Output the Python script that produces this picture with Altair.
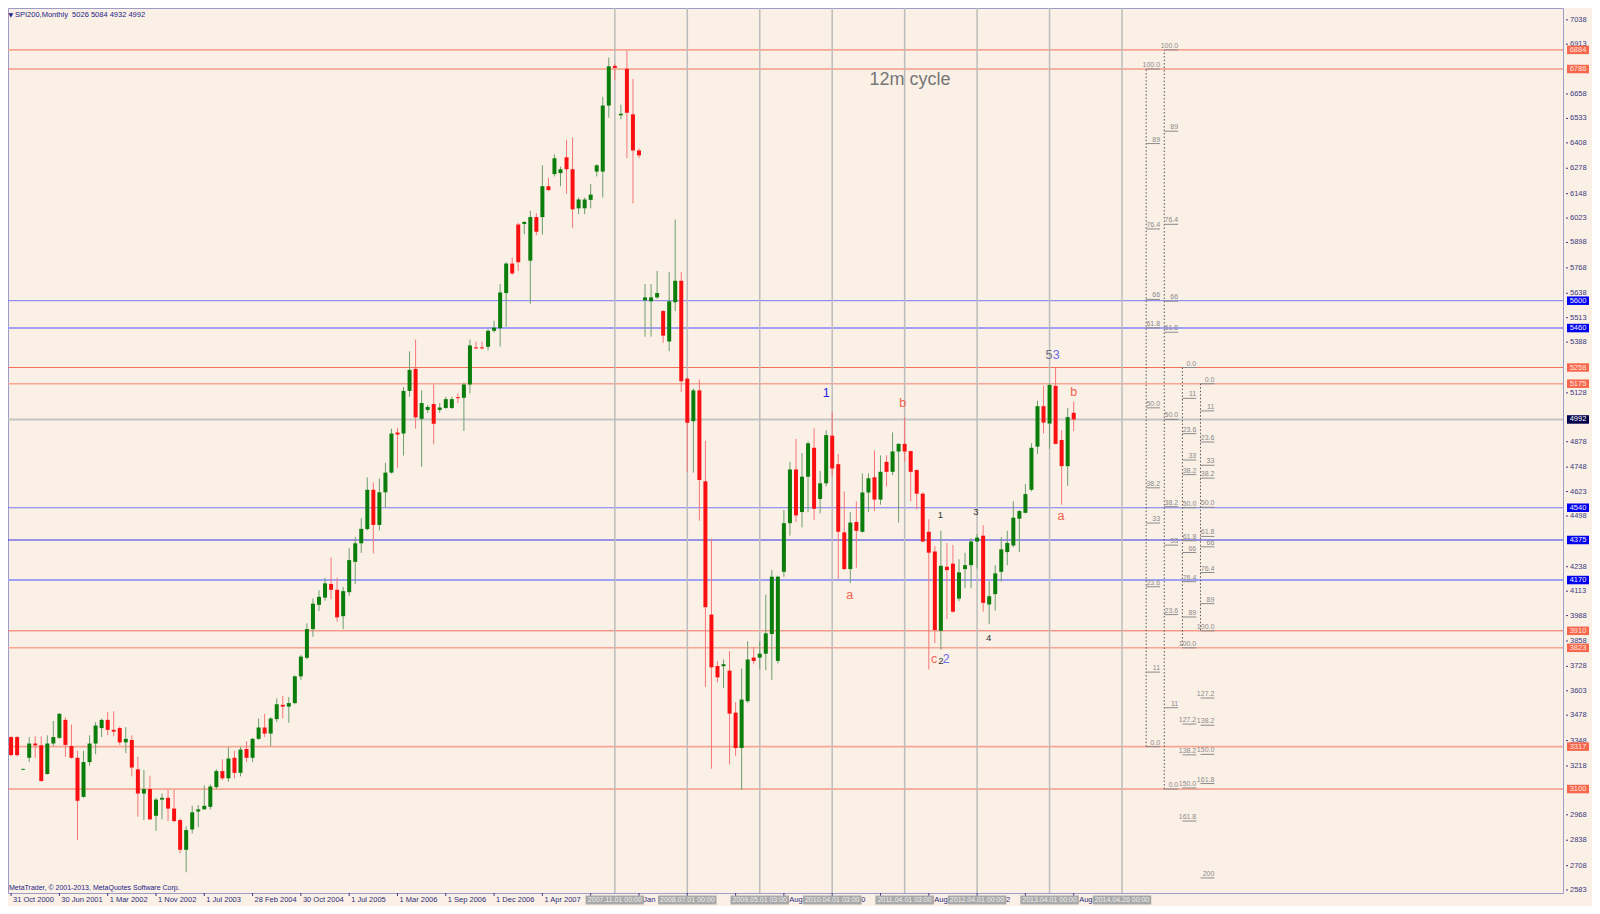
import altair as alt
import pandas as pd

# ---------------- data ----------------
opens = [3366,3366,3199,3260,3333,3324,3177,3333,3362,3454,
         3320,3260,3060,3238,3333,3412,3454,3403,3412,3339,
         3351,3201,3077,3100,2963,3046,3055,3000,2941,2789,
         2893,2985,2996,3009,3110,3192,3155,3260,3183,3305,
         3260,3357,3415,3384,3458,3531,3522,3540,3677,3772,
         3919,4043,4080,4150,4120,3985,4108,4263,4358,4431,
         4632,4452,4619,4720,4925,4920,5138,5251,4995,5041,
         5071,5041,5051,5051,5106,5103,5171,5361,5361,5364,
         5446,5459,5639,5790,5990,5993,5805,6028,6028,6186,
         6248,6253,6334,6273,6073,6073,6116,6261,6261,6599,
         6802,6549,6787,6554,6369,5602,5597,5617,5547,5391,
         5592,5702,5201,4983,5141,4675,3993,3730,3729,3706,
         3491,3310,3550,3773,3773,3793,3894,3756,4212,4461,
         4736,4518,4699,4847,4585,4665,4909,4763,4414,4226,
         4467,4417,4618,4696,4582,4775,4724,4828,4867,4830,
         4733,4612,4417,4316,3910,4238,4254,4075,4226,4246,
         4367,4397,4045,4098,4212,4313,4347,4484,4514,4632,
         4853,5060,4971,5164,4887,4753,5026]
highs = [3370,3372,3205,3366,3370,3370,3375,3448,3489,3467,
         3430,3296,3296,3375,3443,3461,3494,3498,3421,3417,
         3375,3265,3198,3168,3055,3077,3095,3095,2949,2908,
         3014,3018,3119,3124,3201,3252,3315,3296,3315,3344,
         3362,3461,3485,3467,3564,3577,3571,3681,3787,3948,
         4076,4117,4181,4285,4181,4135,4333,4391,4487,4695,
         4670,4690,4770,4945,4950,5158,5341,5401,5141,5066,
         5171,5076,5108,5108,5126,5181,5401,5391,5391,5454,
         5497,5685,5797,5820,5998,6008,6060,6048,6293,6228,
         6349,6286,6424,6436,6128,6128,6198,6298,6644,6845,
         6812,6604,6880,6735,6379,5685,5685,5752,5552,5747,
         6015,5747,5208,5151,5196,4883,4382,3755,3763,3806,
         3545,3717,3857,3826,3857,4095,4221,4192,4528,4775,
         4892,4820,4880,4947,4729,4937,5031,4816,4624,4518,
         4573,4716,4716,4833,4808,4808,4926,4870,5004,4833,
         4736,4619,4481,4343,4422,4360,4350,4276,4310,4384,
         4405,4451,4165,4246,4389,4422,4573,4528,4662,4870,
         5088,5164,5177,5258,4937,5051,5084]
lows = [3268,3266,3197,3238,3260,3137,3174,3320,3357,3265,
        3256,2839,3055,3219,3278,3366,3375,3370,3326,3284,
        3165,2959,2941,2941,2886,2945,2936,2930,2771,2674,
        2872,2904,2996,2996,3100,3146,3137,3155,3165,3238,
        3238,3351,3366,3320,3443,3461,3439,3534,3659,3765,
        3879,4011,4065,4071,3956,3919,4089,4150,4309,4424,
        4306,4424,4539,4715,4745,4807,5108,4945,4750,5026,
        4865,5026,5046,5046,5076,4933,5126,5351,5351,5346,
        5436,5366,5467,5732,5752,5940,5584,5935,5938,6163,
        6236,6186,6148,5973,6043,6043,6073,6236,6128,6537,
        6729,6529,6329,6098,6329,5416,5416,5610,5384,5341,
        5547,5133,4725,4720,4474,3622,3204,3647,3617,3226,
        3269,3095,3541,3739,3712,3709,3659,3743,4187,4397,
        4467,4439,4518,4478,4511,4649,4699,4175,4221,4154,
        4233,4414,4518,4523,4556,4649,4707,4464,4775,4573,
        4531,4363,3712,3847,3813,3969,4003,4061,4128,4128,
        4229,4008,3944,4014,4162,4246,4338,4313,4511,4624,
        4816,4921,4842,4864,4556,4652,4932]
closes = [3274,3274,3203,3333,3324,3141,3333,3366,3485,3326,
          3260,3040,3238,3333,3425,3454,3403,3394,3339,3357,
          3210,3077,3100,2945,3046,3055,3000,2936,2789,2890,
          2981,2996,3014,3113,3192,3155,3256,3183,3302,3260,
          3357,3415,3384,3461,3534,3522,3540,3677,3778,3919,
          4049,4084,4153,4120,3979,4113,4272,4358,4432,4632,
          4452,4619,4720,4920,4915,5138,5246,5003,5076,5056,
          4970,5053,5096,5096,5101,5171,5371,5356,5356,5446,
          5462,5642,5790,5740,5797,6003,6028,5953,6186,6166,
          6329,6273,6273,6068,6118,6118,6143,6293,6599,6800,
          6792,6557,6562,6369,6344,5617,5617,5639,5421,5597,
          5702,5188,4975,5141,4682,4031,3723,3672,3739,3486,
          3310,3558,3763,3756,3793,3897,4187,4187,4461,4736,
          4501,4699,4870,4535,4665,4912,4741,4417,4226,4464,
          4422,4618,4691,4582,4724,4724,4828,4867,4828,4724,
          4612,4367,4310,3914,4243,4221,4008,4209,4246,4367,
          4387,4053,4087,4204,4327,4360,4489,4523,4610,4847,
          5060,4976,5169,4867,4753,5004,4992]

level_prices = [6884, 6786, 5600, 5460, 5258, 5175, 4992, 4540, 4375, 4170, 3910, 3823, 3317, 3100]
level_kinds = ["r2", "r", "b", "b2", "r", "r2", "g", "b", "bd", "b2", "r", "r2", "r2", "r"]

price_ticks = [7038, 6913, 6658, 6533, 6408, 6278, 6148, 6023, 5898, 5768, 5638, 5513,
               5388, 5128, 4878, 4748, 4623, 4498, 4238, 4113, 3988, 3858,
               3728, 3603, 3478, 3348, 3218, 2968, 2838, 2708, 2583]

date_tick_bars = list(range(0, 177, 8))
date_label_bars = [0, 8, 16, 24, 32, 40, 48, 56, 64, 72, 80, 88]
date_labels = ["31 Oct 2000", "30 Jun 2001", "1 Mar 2002", "1 Nov 2002", "1 Jul 2003",
               "28 Feb 2004", "30 Oct 2004", "1 Jul 2005", "1 Mar 2006", "1 Sep 2006",
               "1 Dec 2006", "1 Apr 2007"]
# fragments of date labels that peek out between the grey separator boxes
frag_bars = [104.7, 128.9, 140.8, 152.9, 164.8, 176.9]
frag_texts = ["Jan", "Aug", "0", "Aug", "2", "Aug"]

sep_bars = [100, 112, 124, 136, 148, 160, 172, 184]
sep_labels = ["2007.11.01 00:00", "2008.07.01 00:00", "2009.05.01 03:00", "2010.04.01 03:00",
              "2011.04.01 03:00", "2012.04.01 00:00", "2013.04.01 00:00", "2014.04.26 00:00"]

fib_ret = [0, 11, 23.6, 33, 38.2, 50, 61.8, 66, 76.4, 89, 100]
fib_ext = [127.2, 138.2, 150, 161.8]
fib_ext_d = [127.2, 138.2, 150, 161.8, 200]
# (name, bar of dotted line, price at 0 %, price at 100 %)
fib_sets = [("A", 188, 3317, 6786), ("B", 191, 3100, 6884), ("C", 194, 5258, 3823), ("D", 197, 5175, 3910)]

wave_text = ["1", "b", "a", "c", "2", "2", "1", "3", "4", "5", "3", "b", "a"]
wave_bar = [135.0, 147.7, 138.9, 152.9, 154.0, 154.9, 153.9, 159.8, 161.9, 171.9, 173.1, 176.0, 173.9]
wave_price = [5125, 5075, 4091, 3765, 3757, 3765, 4501, 4518, 3872, 5320, 5320, 5132, 4497]
wave_kind = ["blue", "red", "red", "red", "dark", "lblue", "dark", "dark", "dark", "grey", "lblue", "red", "red"]

# ---------------- layout ----------------
W, H = 1555, 885
FONT = "Liberation Sans"
AXC = "#3a3a80"
xs = alt.Scale(domain=[-0.509, 257.04], nice=False, zero=False)
ys = alt.Scale(domain=[2567.8, 7098.4], nice=False, zero=False)

n = len(opens)
cd = pd.DataFrame({"i": list(range(n)), "o": opens, "h": highs, "l": lows, "c": closes})
up = cd["c"] >= cd["o"]
cd["bc"] = ["#0a7d0a" if u else "#fa1010" for u in up]
cd["wc"] = ["#6e9e6e" if u else "#f77676" for u in up]

styles = {
    "r": ("#f2705a", 1.0, "#f7674e", "#ffe6de"),
    "r2": ("#f7a595", 1.6, "#f7674e", "#ffe6de"),
    "b": ("#7a7af0", 1.0, "#0000f0", "#eeeeff"),
    "b2": ("#a0a0f4", 2.0, "#0000f0", "#eeeeff"),
    "bd": ("#3535e6", 1.2, "#0000f0", "#eeeeff"),
    "g": ("#c4c4c4", 2.0, "#00004a", "#ffffff"),
}
lv = pd.DataFrame({"p": level_prices, "k": level_kinds})
lv["lc"] = [styles[k][0] for k in lv["k"]]
lv["lw"] = [styles[k][1] for k in lv["k"]]
lv["tb"] = [styles[k][2] for k in lv["k"]]
lv["tt"] = [styles[k][3] for k in lv["k"]]
lv["txt"] = [str(p) for p in lv["p"]]


def X(f):
    return alt.X(f, scale=xs, axis=None, title=None)


def Y(f):
    return alt.Y(f, scale=ys, axis=None, title=None)


layers = []

# horizontal levels
layers.append(alt.Chart(lv).mark_rule().encode(
    x=alt.value(0), x2=alt.value(W), y=Y("p:Q"),
    color=alt.Color("lc:N", scale=None),
    strokeWidth=alt.StrokeWidth("lw:Q", scale=None)))

# period separators
sp = pd.DataFrame({"s": sep_bars, "lab": sep_labels})
sp["a"] = sp["s"] - 4.85
sp["b"] = sp["s"] + 4.85
layers.append(alt.Chart(sp).mark_rule(color="#bcbcbc", strokeWidth=1.5).encode(
    x=X("s:Q"), y=alt.value(0), y2=alt.value(H)))

# fibonacci tools
fv_rows, fl_rows = [], []
for name, bar, p0, p100 in fib_sets:
    ratios = list(fib_ret)
    if name == "C":
        ratios += fib_ext
    if name == "D":
        ratios += fib_ext_d
    fv_rows.append({"x": bar, "top": p0, "bot": p100})
    for r in ratios:
        lab = ("%.1f" % r) if r in (0, 50, 100, 150) or (r != int(r)) else str(int(r))
        fl_rows.append({"x": bar, "xe": bar + 2.3, "p": p0 + (p100 - p0) * r / 100.0, "lab": lab})
fv = pd.DataFrame(fv_rows)
fl = pd.DataFrame(fl_rows)
layers.append(alt.Chart(fv).mark_rule(color="#555555", strokeWidth=1, strokeDash=[1.5, 2]).encode(
    x=X("x:Q"), y=Y("top:Q"), y2="bot:Q"))
layers.append(alt.Chart(fl).mark_rule(color="#8c8c8c", strokeWidth=1).encode(
    x=X("x:Q"), x2="xe:Q", y=Y("p:Q")))
layers.append(alt.Chart(fl).mark_text(align="right", baseline="bottom", dy=-1, fontSize=7,
                                      font=FONT, color="#8a8a8a").encode(
    x=X("xe:Q"), y=Y("p:Q"), text="lab:N"))

# candles
layers.append(alt.Chart(cd).mark_rule(strokeWidth=1).encode(
    x=X("i:Q"), y=Y("l:Q"), y2="h:Q", color=alt.Color("wc:N", scale=None)))
layers.append(alt.Chart(cd).mark_rule(strokeWidth=4).encode(
    x=X("i:Q"), y=Y("o:Q"), y2="c:Q", color=alt.Color("bc:N", scale=None)))

# wave labels
wcol = {"blue": "#2424e8", "red": "#f2624f", "dark": "#333333", "lblue": "#6c6cec", "grey": "#707088"}
wsize = {"blue": 12.5, "red": 12.5, "dark": 9.5, "lblue": 12.5, "grey": 12.5}
wv = pd.DataFrame({"t": wave_text, "x": wave_bar, "p": wave_price, "k": wave_kind})
wv["col"] = [wcol[k] for k in wv["k"]]
wv["fs"] = [wsize[k] for k in wv["k"]]
layers.append(alt.Chart(wv).mark_text(align="center", baseline="middle", font=FONT).encode(
    x=X("x:Q"), y=Y("p:Q"), text="t:N",
    color=alt.Color("col:N", scale=None), size=alt.Size("fs:Q", scale=None)))

cyc = pd.DataFrame({"x": [148.9], "p": [6728], "t": ["12m cycle"]})
layers.append(alt.Chart(cyc).mark_text(align="center", baseline="middle", font=FONT,
                                       fontSize=18, color="#767676").encode(
    x=X("x:Q"), y=Y("p:Q"), text="t:N"))

# header / footer
hd = pd.DataFrame({"t": ["SPI200,Monthly\u00a0 5026 5084 4932 4992"]})
layers.append(alt.Chart(hd).mark_text(align="left", baseline="middle", font=FONT, fontSize=7.5,
                                      color="#1c1c84").encode(
    x=alt.value(7), y=alt.value(7), text="t:N"))
tri = pd.DataFrame({"t": ["\u25bc"]})
layers.append(alt.Chart(tri).mark_text(align="left", baseline="middle", font="DejaVu Sans",
                                       fontSize=6, color="#1c1c84").encode(
    x=alt.value(0.5), y=alt.value(7), text="t:N"))
ft = pd.DataFrame({"t": ["MetaTrader, \u00a9 2001-2013, MetaQuotes Software Corp."]})
layers.append(alt.Chart(ft).mark_text(align="left", baseline="middle", font=FONT, fontSize=7,
                                      color="#1c1c84").encode(
    x=alt.value(1), y=alt.value(H - 5), text="t:N"))

# right price axis (ticks + labels)
pt = pd.DataFrame({"p": price_ticks, "t": [str(v) for v in price_ticks]})
layers.append(alt.Chart(pt).mark_rule(color=AXC, strokeWidth=1).encode(
    x=alt.value(W + 3), x2=alt.value(W + 5), y=Y("p:Q")))
layers.append(alt.Chart(pt).mark_text(align="left", baseline="middle", font=FONT, fontSize=7.5,
                                      color=AXC).encode(
    x=alt.value(W + 7), y=Y("p:Q"), text="t:N"))

# price tags on the right axis
layers.append(alt.Chart(lv).mark_rule(strokeWidth=8.5).encode(
    x=alt.value(W + 4), x2=alt.value(W + 26), y=Y("p:Q"),
    color=alt.Color("tb:N", scale=None)))
layers.append(alt.Chart(lv).mark_text(align="center", baseline="middle", font=FONT,
                                      fontSize=7.5).encode(
    x=alt.value(W + 15), y=Y("p:Q"), text="txt:N", color=alt.Color("tt:N", scale=None)))

# bottom time axis: ticks, date labels, separator boxes
dt = pd.DataFrame({"x": date_tick_bars})
layers.append(alt.Chart(dt).mark_rule(color=AXC, strokeWidth=1).encode(
    x=X("x:Q"), y=alt.value(H), y2=alt.value(H + 3)))
dl = pd.DataFrame({"x": date_label_bars, "t": date_labels})
layers.append(alt.Chart(dl).mark_text(align="left", baseline="middle", dx=2, font=FONT,
                                      fontSize=7.5, color="#2b2b7a").encode(
    x=X("x:Q"), y=alt.value(H + 7), text="t:N"))
fr = pd.DataFrame({"x": frag_bars, "t": frag_texts})
layers.append(alt.Chart(fr).mark_text(align="left", baseline="middle", font=FONT,
                                      fontSize=7.5, color="#2b2b7a").encode(
    x=X("x:Q"), y=alt.value(H + 7), text="t:N"))
layers.append(alt.Chart(sp).mark_rule(strokeWidth=9, color="#a9a9a9").encode(
    x=X("a:Q"), x2="b:Q", y=alt.value(H + 7)))
layers.append(alt.Chart(sp).mark_text(align="center", baseline="middle", font=FONT,
                                      fontSize=7, color="#efefef").encode(
    x=X("s:Q"), y=alt.value(H + 7), text="lab:N"))

chart = alt.layer(*layers).properties(
    width=W, height=H,
    autosize=alt.AutoSizeParams(type="none"),
    padding={"left": 0, "top": 0, "right": 29, "bottom": 13},
).configure(background="#faf0e6").configure_view(stroke="#9c9cc6", strokeWidth=1)

chart.save("out.html", embed_options={"renderer": "svg", "actions": False})
